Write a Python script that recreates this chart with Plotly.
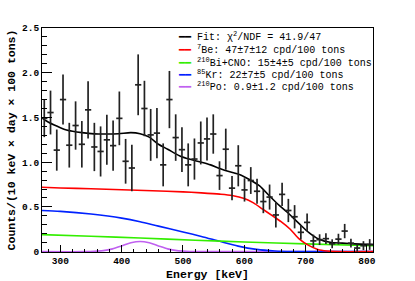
import plotly.graph_objects as go

# ---- data ----
energy = [273.7, 283.9, 294.1, 304.3, 314.5, 324.8, 335.0, 345.2, 355.4, 365.6,
          375.8, 386.0, 396.2, 406.4, 416.6, 426.9, 437.1, 447.3, 457.5, 467.7,
          477.9, 488.1, 498.3, 508.5, 518.7, 529.0, 539.2, 549.4, 559.6, 569.8,
          580.0, 590.2, 600.4, 610.6, 620.8, 631.1, 641.3, 651.5, 661.7, 671.9,
          682.1, 692.3, 702.5, 712.7, 722.9, 733.2, 743.4, 753.6, 763.8, 774.0,
          784.2, 794.4, 804.6]
counts = [1.49, 1.555, 1.135, 1.70, 1.19, 1.41, 1.20, 1.585, 1.17, 1.12,
          1.25, 1.185, 1.49, 1.01, 0.935, 1.865, 1.60, 1.305, 1.325, 0.97,
          1.70, 1.275, 1.14, 0.97, 1.035, 1.215, 1.26, 1.315, 0.85, 1.145,
          0.71, 0.96, 0.69, 0.795, 0.675, 0.56, 0.61, 0.41, 0.64, 0.46,
          0.39, 0.216, 0.327, 0.12, 0.134, 0.145, 0.088, 0.14, 0.23, 0.095,
          0.04, 0.067, 0.08]
errors = [0.21, 0.245, 0.23, 0.28, 0.25, 0.27, 0.26, 0.32, 0.27, 0.28,
          0.28, 0.28, 0.30, 0.25, 0.26, 0.34, 0.31, 0.29, 0.28, 0.24,
          0.32, 0.26, 0.25, 0.24, 0.23, 0.24, 0.24, 0.22, 0.16, 0.23,
          0.135, 0.23, 0.13, 0.15, 0.14, 0.13, 0.14, 0.14, 0.13, 0.13,
          0.13, 0.08, 0.10, 0.07, 0.06, 0.06, 0.05, 0.06, 0.08, 0.05,
          0.04, 0.05, 0.06]

fit_e = [270, 275, 280, 290, 300, 310, 320, 335, 355, 375, 395, 415, 430, 445,
         460, 475, 495, 510, 530, 545, 560, 575, 595, 610, 625, 640, 655, 670,
         690, 705, 720, 740, 760, 780, 800, 810]
fit_v = [1.50, 1.47, 1.45, 1.415, 1.385, 1.36, 1.345, 1.33, 1.317, 1.315, 1.318,
         1.33, 1.318, 1.28, 1.20, 1.145, 1.07, 1.035, 1.00, 0.97, 0.93, 0.895,
         0.855, 0.80, 0.735, 0.63, 0.53, 0.44, 0.31, 0.215, 0.145, 0.105, 0.095,
         0.087, 0.081, 0.079]

be_e = [270, 300, 350, 400, 450, 500, 530, 560, 580, 600, 615, 630, 645, 660,
        675, 690, 705, 720, 735, 750, 810]
be_v = [0.72, 0.712, 0.703, 0.692, 0.681, 0.668, 0.657, 0.643, 0.628, 0.595,
        0.545, 0.475, 0.405, 0.335, 0.25, 0.14, 0.07, 0.025, 0.007, 0.0, 0.0]

bi_e = [270, 350, 430, 520, 600, 700, 810]
bi_v = [0.19, 0.172, 0.152, 0.128, 0.108, 0.087, 0.066]

kr_e = [270, 300, 350, 400, 430, 460, 500, 530, 560, 590, 620, 650, 680, 720, 810]
kr_v = [0.46, 0.45, 0.42, 0.375, 0.335, 0.285, 0.22, 0.17, 0.115, 0.062,
        0.025, 0.007, 0.001, 0.0, 0.0]

po_e = [270, 340, 355, 370, 385, 400, 415, 430, 445, 460, 475, 490, 505, 520, 810]
po_v = [0.0, 0.0, 0.003, 0.011, 0.031, 0.064, 0.099, 0.114, 0.099, 0.064,
        0.031, 0.011, 0.003, 0.0, 0.0]

legend_labels = [
    "Fit: \u03c7<sup>2</sup>/NDF = 41.9/47",
    "<sup>7</sup>Be: 47\u00b17\u00b112 cpd/100 tons",
    "<sup>210</sup>Bi+CNO: 15\u00b14\u00b15 cpd/100 tons",
    "<sup>85</sup>Kr: 22\u00b17\u00b15 cpd/100 tons",
    "<sup>210</sup>Po: 0.9\u00b11.2 cpd/100 tons",
]
colors = ["#000000", "#ff0000", "#33ee00", "#0022ff", "#c060f0"]

ytick_vals = [0, 0.5, 1.0, 1.5, 2.0, 2.5]
ytick_text = ["0", "0.5", "1.0", "1.5", "2.0", "2.5"]

# ---- figure ----
fig = go.Figure()

for ex, ey, col in [(po_e, po_v, colors[4]), (kr_e, kr_v, colors[3]),
                    (bi_e, bi_v, colors[2]), (be_e, be_v, colors[1]),
                    (fit_e, fit_v, colors[0])]:
    fig.add_trace(go.Scatter(x=ex, y=ey, mode="lines",
                             line=dict(color=col, width=1.6, shape="spline", smoothing=0.8),
                             showlegend=False, hoverinfo="skip"))

fig.add_trace(go.Scatter(
    x=energy, y=counts, mode="markers",
    marker=dict(size=1, color="#222222"),
    error_y=dict(type="data", array=errors, visible=True, color="#222222",
                 thickness=1.7, width=0),
    error_x=dict(type="constant", value=5.1, visible=True, color="#222222",
                 thickness=1.7, width=0),
    showlegend=False))

mono = "Liberation Mono, Courier New, monospace"

# legend drawn as text rows
row_px = [37, 49.5, 62, 74.5, 87]
for lab, col, py in zip(legend_labels, colors, row_px):
    fig.add_annotation(
        xref="paper", yref="paper", x=(176 - 42) / 331, y=(252 - py) / 224,
        xanchor="left", yanchor="middle", showarrow=False,
        text=f'<span style="color:{col}">\u2501\u2501</span> {lab}',
        font=dict(family=mono, size=10, color="black"))

fig.update_layout(
    width=415, height=281,
    margin=dict(l=42, r=42, t=28, b=29, autoexpand=False),
    paper_bgcolor="white", plot_bgcolor="white",
    font=dict(family=mono, color="black"),
    xaxis=dict(
        range=[270, 810], showgrid=False, zeroline=False, automargin=False,
        showline=True, mirror=True, linecolor="black", linewidth=1,
        ticks="inside", ticklen=7, tickcolor="black", tickwidth=1,
        tickmode="linear", tick0=300, dtick=100,
        minor=dict(ticks="inside", ticklen=3.5, dtick=20, tick0=300, tickcolor="black"),
        tickfont=dict(family=mono, size=9.5, color="black", weight="bold"),
        title=dict(text="Energy [keV]", standoff=3,
                   font=dict(family=mono, size=11.5, color="black", weight="bold")),
    ),
    yaxis=dict(
        range=[-0.004, 2.5], showgrid=False, zeroline=False, automargin=False,
        showline=True, mirror=True, linecolor="black", linewidth=1,
        ticks="inside", ticklen=10, tickcolor="black", tickwidth=1,
        tickmode="array", tickvals=ytick_vals, ticktext=ytick_text,
        minor=dict(ticks="inside", ticklen=5, dtick=0.1, tick0=0, tickcolor="black"),
        tickfont=dict(family=mono, size=9.5, color="black", weight="bold"),
        title=dict(text="Counts/(10 keV \u00d7 day \u00d7 100 tons)", standoff=3,
                   font=dict(family=mono, size=11.5, color="black", weight="bold")),
    ),
)

fig.write_html("out.html", config={"displayModeBar": False},
               post_script="document.body.style.margin='0px';")
